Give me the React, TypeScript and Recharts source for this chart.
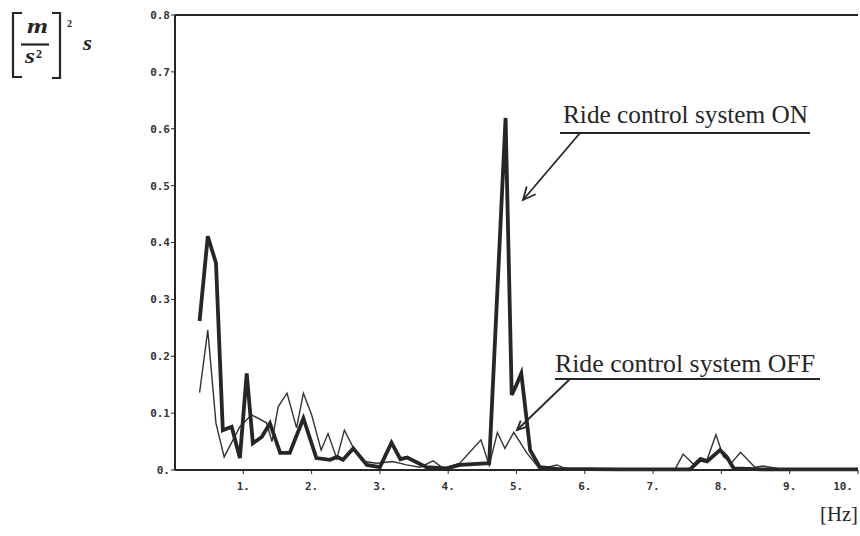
import { LineChart, Line, XAxis, YAxis, ReferenceLine } from "recharts";

// frequency [Hz] and PSD values
const onFreq = [0.36, 0.48, 0.6, 0.7, 0.83, 0.95, 1.05, 1.14, 1.27, 1.39, 1.54, 1.68, 1.88, 2.07, 2.27, 2.37, 2.46, 2.61, 2.81, 3.0, 3.17, 3.3, 3.4, 3.68, 3.98, 4.17, 4.6, 4.84, 4.93, 5.0, 5.07, 5.2, 5.34, 5.6, 6.5, 7.54, 7.69, 7.79, 7.98, 8.08, 8.18, 8.6, 10.0];
const onPsd = [0.262, 0.411, 0.364, 0.07, 0.076, 0.021, 0.17, 0.047, 0.058, 0.082, 0.03, 0.03, 0.091, 0.021, 0.018, 0.023, 0.018, 0.038, 0.009, 0.005, 0.048, 0.019, 0.022, 0.005, 0.003, 0.009, 0.012, 0.619, 0.132, 0.15, 0.17, 0.035, 0.005, 0.002, 0.001, 0.001, 0.018, 0.015, 0.035, 0.023, 0.003, 0.001, 0.001];

const offFreq = [0.36, 0.48, 0.6, 0.72, 0.95, 1.12, 1.34, 1.42, 1.51, 1.64, 1.78, 1.88, 2.0, 2.14, 2.24, 2.37, 2.48, 2.65, 2.78, 2.95, 3.19, 3.39, 3.59, 3.78, 3.93, 4.17, 4.48, 4.6, 4.72, 4.83, 4.96, 5.15, 5.34, 5.59, 5.73, 7.32, 7.44, 7.59, 7.69, 7.79, 7.92, 8.03, 8.15, 8.28, 8.49, 8.61, 8.9, 10.0];
const offPsd = [0.136, 0.246, 0.082, 0.023, 0.076, 0.097, 0.083, 0.05, 0.111, 0.135, 0.074, 0.135, 0.097, 0.035, 0.064, 0.02, 0.07, 0.03, 0.015, 0.012, 0.015, 0.009, 0.005, 0.016, 0.003, 0.012, 0.053, 0.008, 0.066, 0.038, 0.066, 0.03, 0.002, 0.009, 0.002, 0.001, 0.028, 0.01, 0.022, 0.018, 0.062, 0.023, 0.013, 0.031, 0.005, 0.007, 0.001, 0.001];

const xTicks = [1, 2, 3, 4, 5, 6, 7, 8, 9, 10];
const yTicks = [0, 0.1, 0.2, 0.3, 0.4, 0.5, 0.6, 0.7, 0.8];

const onData = onFreq.map((f, i) => ({ f, v: onPsd[i] }));
const offData = offFreq.map((f, i) => ({ f, v: offPsd[i] }));

const ink = "#262626";
const tickFont = { fontFamily: "DejaVu Sans Mono", fontWeight: 700, fontSize: 11, fill: "#333" };
const serif = "Liberation Serif";

// x tick: keep the last label inside the page
function XTick(props: any) {
  const { x, y, payload } = props;
  const last = payload.value === xTicks[xTicks.length - 1];
  return (
    <text x={last ? x + 1 : x} y={y} dy="0.71em" textAnchor={last ? "end" : "middle"} {...tickFont}>
      {`${payload.value}.`}
    </text>
  );
}

export default function App() {
  return (
    <div style={{ position: "absolute", left: 0, top: 0, width: 860, height: 536, background: "#fff" }}>
      <LineChart width={860} height={536} margin={{ top: 15, right: 2, left: 115, bottom: 36 }}>
        <XAxis
          dataKey="f"
          type="number"
          domain={[0, 10]}
          ticks={xTicks}
          allowDuplicatedCategory={false}
          axisLine={{ stroke: ink, strokeWidth: 2 }}
          tickLine={{ stroke: ink }}
          tickSize={4}
          tickMargin={8}
          tick={<XTick />}
          height={30}
        />
        <YAxis
          type="number"
          domain={[0, 0.8]}
          ticks={yTicks}
          tickFormatter={(v) => (v === 0 ? "0." : v.toFixed(1))}
          axisLine={{ stroke: ink, strokeWidth: 2 }}
          tickLine={{ stroke: ink }}
          tickSize={4}
          tickMargin={1}
          tick={tickFont}
          width={60}
        />
        <ReferenceLine y={0.8} stroke={ink} strokeWidth={2} />
        <Line data={offData} dataKey="v" type="linear" stroke="#333" strokeWidth={1.4} dot={false} isAnimationActive={false} />
        <Line data={onData} dataKey="v" type="linear" stroke={ink} strokeWidth={3.8} dot={false} isAnimationActive={false} />
      </LineChart>

      <svg width={860} height={536} style={{ position: "absolute", left: 0, top: 0, pointerEvents: "none" }}>
        {/* unit label [m/s^2]^2 s */}
        <g stroke={ink} strokeWidth={2.2} fill="none">
          <path d="M22,13 L13,13 L13,77 L22,77" />
          <path d="M52,13 L60,13 L60,78 L52,78" />
          <line x1={21} y1={44.5} x2={49} y2={44.5} />
        </g>
        <g fill={ink} fontFamily={serif} fontStyle="italic" fontWeight={700}>
          <text x={27} y={33} fontSize={20} textLength={21} lengthAdjust="spacingAndGlyphs">m</text>
          <text x={25} y={63} fontSize={21} textLength={10} lengthAdjust="spacingAndGlyphs">s</text>
          <text x={36} y={58} fontSize={12} fontStyle="normal">2</text>
          <text x={67} y={27} fontSize={10} fontStyle="normal">2</text>
          <text x={83} y={50} fontSize={22} textLength={9} lengthAdjust="spacingAndGlyphs">s</text>
        </g>

        {/* annotations */}
        <g fill={ink} fontFamily={serif}>
          <text x={563} y={123} fontSize={25} textLength={245} lengthAdjust="spacingAndGlyphs">Ride control system ON</text>
          <text x={555} y={371.5} fontSize={25} textLength={260} lengthAdjust="spacingAndGlyphs">Ride control system OFF</text>
          <text x={820} y={521} fontSize={21} textLength={38} lengthAdjust="spacingAndGlyphs">[Hz]</text>
        </g>
        <g stroke={ink} strokeWidth={1.8} fill="none">
          <line x1={560} y1={133} x2={810} y2={133} />
          <line x1={580} y1={133} x2={523} y2={200} />
          <path d="M535.7,194.2 L523,200 L526.7,186.5" />
          <line x1={555} y1={379} x2={820} y2={379} />
          <line x1={570} y1={379} x2={517} y2={430} />
          <path d="M526.5,426.9 L517,430 L520.7,420.7" />
        </g>
      </svg>
    </div>
  );
}
